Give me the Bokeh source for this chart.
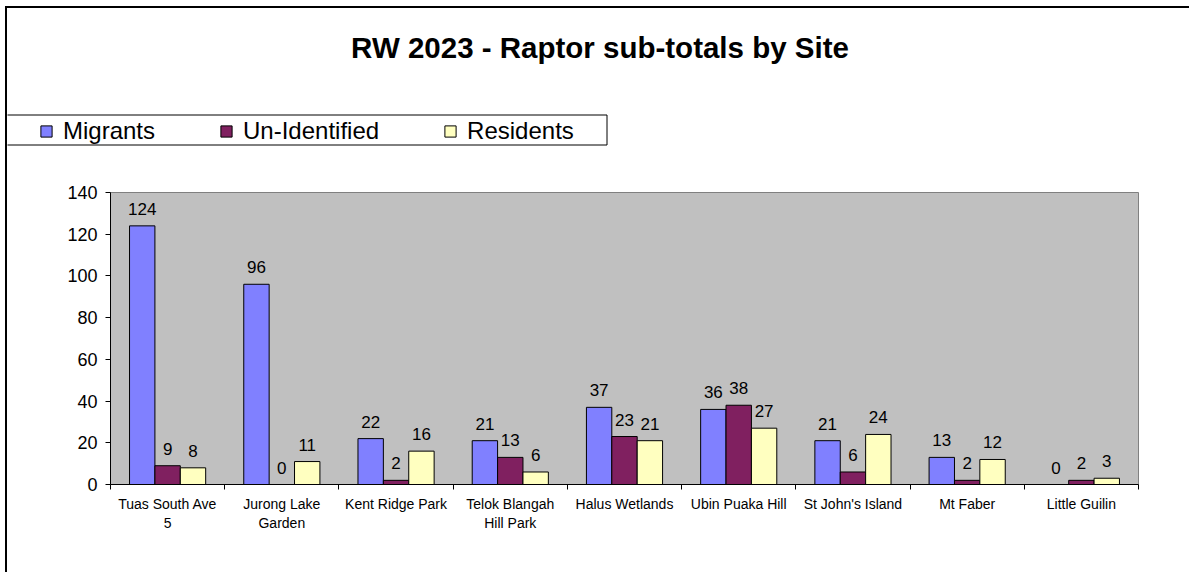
import numpy as np
from bokeh.plotting import figure
from bokeh.layouts import column
from bokeh.models import (ColumnDataSource, Range1d, FixedTicker, Legend,
                          LegendItem, Label, BoxAnnotation)
from bokeh.transform import dodge
from bokeh.core.properties import value
from bokeh.embed import file_html
from bokeh.resources import INLINE

# ---------------- data ----------------
sites = ["Tuas South Ave\n5", "Jurong Lake\nGarden", "Kent Ridge Park",
         "Telok Blangah\nHill Park", "Halus Wetlands", "Ubin Puaka Hill",
         "St John's Island", "Mt Faber", "Little Guilin"]
migrants = [124, 96, 22, 21, 37, 36, 21, 13, 0]
unidentified = [9, 0, 2, 13, 23, 38, 6, 2, 2]
residents = [8, 11, 16, 6, 21, 27, 24, 12, 3]
y_ticks = [0, 20, 40, 60, 80, 100, 120, 140]
series_names = ["Migrants", "Un-Identified", "Residents"]
series_colors = ["#8080FF", "#802060", "#FFFFC0"]
title_text = "RW 2023 - Raptor sub-totals by Site"

FONT = "Liberation Sans"
W = 1182           # content width (page x 7 .. 1189)
H1, H2 = 150, 414  # header strip + chart

pos = list(range(len(sites)))
src = ColumnDataSource(dict(
    x=pos,
    m=migrants, u=unidentified, r=residents,
    mt=[str(v) for v in migrants],
    ut=[str(v) for v in unidentified],
    rt=[str(v) for v in residents],
))
fields = ["m", "u", "r"]
tfields = ["mt", "ut", "rt"]

# ---------------- header: title + legend ----------------
p1 = figure(width=W, height=H1, output_backend="svg", toolbar_location=None,
            x_range=Range1d(0, W), y_range=Range1d(H1, 0),
            x_axis_location=None, y_axis_location=None,
            min_border=0, min_border_left=0, min_border_right=0,
            min_border_top=0, min_border_bottom=0, frame_align=False,
            outline_line_color=None, background_fill_color="white",
            border_fill_color="white")
p1.xgrid.visible = False
p1.ygrid.visible = False

p1.add_layout(Label(x=592.5, y=39, text=title_text, text_align="center",
                    text_baseline="alphabetic", text_font=FONT,
                    text_font_size="29.5px", text_font_style="bold",
                    text_color="black"))

p1.add_layout(BoxAnnotation(left=-3, right=599.5, top=106.5, bottom=136.5,
                            fill_color="white", fill_alpha=1,
                            line_color="black", line_alpha=1, line_width=1))

proxies = []
for f, c in zip(fields, series_colors):
    proxies.append(p1.vbar(x="x", top=f, width=0.5, source=src, fill_color=c,
                           line_color="black", line_width=1, visible=False))

legend = Legend(items=[LegendItem(label=n, renderers=[r]) for n, r in zip(series_names, proxies)],
                orientation="horizontal", location=(32, 13),
                label_text_font=FONT, label_text_font_size="24px",
                label_text_color="black",
                glyph_width=14, glyph_height=14, label_standoff=10, spacing=64,
                label_height=28, padding=0, margin=0,
                inactive_fill_alpha=0,
                border_line_color=None, background_fill_alpha=0)
p1.add_layout(legend, "center")

# ---------------- chart ----------------
p = figure(width=W, height=H2, output_backend="svg", toolbar_location=None,
           x_range=Range1d(-0.5, len(sites) - 0.5), y_range=Range1d(0, y_ticks[-1]),
           min_border_left=103, min_border_right=51, min_border_top=34,
           min_border_bottom=88, frame_align=False,
           background_fill_color="#C0C0C0",
           border_fill_color="white", outline_line_color="#808080")
p.xgrid.visible = False
p.ygrid.visible = False

bw = 2.0 / 9.0
offsets = [-bw, 0.0, bw]
for f, tf, off, c in zip(fields, tfields, offsets, series_colors):
    p.vbar(x=dodge("x", off, range=p.x_range), top=f, width=bw, bottom=0,
           source=src, fill_color=c, line_color="black", line_width=1)
    p.text(x=dodge("x", off, range=p.x_range), y=f, text=tf, source=src,
           text_align="center", text_baseline="alphabetic", y_offset=-17,
           text_font=value(FONT), text_font_size="17px", text_color="black")

xa = p.xaxis[0]
xa.ticker = FixedTicker(ticks=pos, minor_ticks=[i - 0.5 for i in range(len(sites) + 1)])
xa.major_label_overrides = {i: s for i, s in zip(pos, sites)}
xa.major_tick_line_color = None
xa.minor_tick_line_color = "black"
xa.minor_tick_in = 0
xa.minor_tick_out = 5
xa.axis_line_color = "black"
xa.major_label_text_font = FONT
xa.major_label_text_font_size = "14px"
xa.major_label_text_line_height = 1.2
xa.major_label_standoff = 5
xa.major_label_text_color = "black"

ya = p.yaxis[0]
ya.ticker = FixedTicker(ticks=y_ticks)
ya.major_tick_in = 0
ya.major_tick_out = 5
ya.minor_tick_line_color = None
ya.axis_line_color = "black"
ya.major_label_text_font = FONT
ya.major_label_text_font_size = "18px"
ya.major_label_standoff = 8
ya.major_label_text_color = "black"

layout = column(p1, p, margin=(6, 0, 0, 5), spacing=0,
                styles={"border-left": "2px solid black",
                        "border-top": "2px solid black"})

open("out.html", "w").write(file_html(layout, INLINE))
